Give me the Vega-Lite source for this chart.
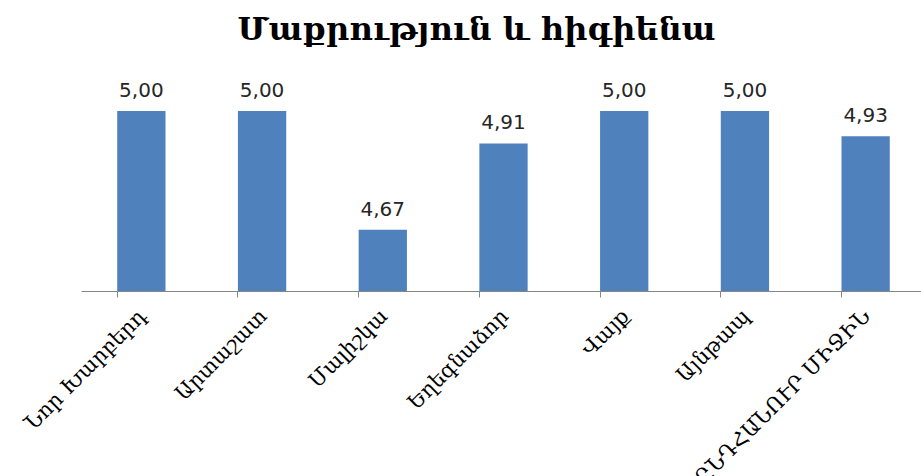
{
  "$schema": "https://vega.github.io/schema/vega-lite/v6.json",
  "width": 845,
  "height": 216,
  "autosize": "none",
  "padding": {"left": 81, "top": 75, "right": 0, "bottom": 185},
  "background": "white",
  "config": {
    "view": {"stroke": null},
    "locale": {"number": {"decimal": ",", "thousands": " ", "grouping": [3], "currency": ["", ""]}}
  },
  "title": {
    "text": "Մաքրություն և հիգիենա",
    "font": "DejaVu Serif",
    "fontSize": 32,
    "fontWeight": "bold",
    "color": "#000000",
    "anchor": "middle",
    "dx": -27,
    "offset": 28
  },
  "data": {
    "values": [
      {"city": "Նոր Խարբերդ", "score": 5.00},
      {"city": "Արտաշատ", "score": 5.00},
      {"city": "Մալիշկա", "score": 4.67},
      {"city": "Եղեգնաձոր", "score": 4.91},
      {"city": "Վայք", "score": 5.00},
      {"city": "Այնթապ", "score": 5.00},
      {"city": "ԸՆԴՀԱՆՈՒՐ ՄԻՋԻՆ", "score": 4.93}
    ]
  },
  "encoding": {
    "x": {
      "field": "city",
      "type": "nominal",
      "sort": null,
      "scale": {"paddingInner": 0.6, "paddingOuter": 0.3},
      "axis": {
        "title": null,
        "labelAngle": -45,
        "labelFont": "DejaVu Serif",
        "labelFontSize": 21,
        "labelColor": "#000000",
        "labelPadding": 8,
        "labelOffset": -6,
        "domainColor": "#868686",
        "tickColor": "#868686",
        "tickSize": 6,
        "bandPosition": 0,
        "labelLimit": 300
      }
    },
    "y": {
      "field": "score",
      "type": "quantitative",
      "scale": {"domain": [4.5, 5.1], "zero": false},
      "axis": null
    }
  },
  "layer": [
    {"mark": {"type": "bar", "color": "#4F81BD", "clip": true}},
    {
      "mark": {"type": "text", "baseline": "alphabetic", "dy": -14, "font": "DejaVu Sans", "fontSize": 20, "color": "#262626"},
      "encoding": {"text": {"field": "score", "type": "quantitative", "format": ".2f"}}
    }
  ]
}
